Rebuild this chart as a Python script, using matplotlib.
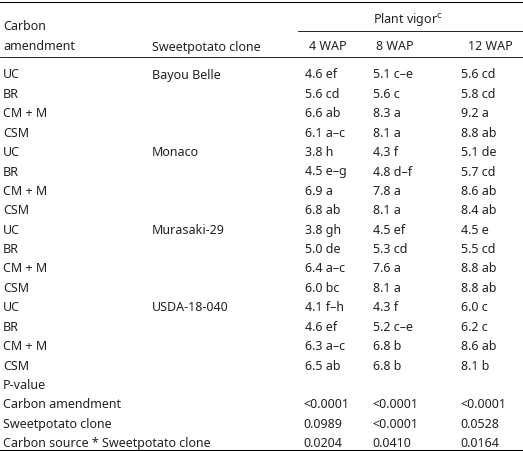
import matplotlib
matplotlib.use("Agg")
import matplotlib.pyplot as plt

amendments = ["UC", "BR", "CM + M", "CSM"] * 4
clones = ["Bayou Belle", "", "", "", "Monaco", "", "", "", "Murasaki-29", "", "", "",
          "USDA-18-040", "", "", ""]
wap4 = ["4.6 ef", "5.6 cd", "6.6 ab", "6.1 a–c", "3.8 h", "4.5 e–g", "6.9 a", "6.8 ab",
        "3.8 gh", "5.0 de", "6.4 a–c", "6.0 bc", "4.1 f–h", "4.6 ef", "6.3 a–c", "6.5 ab"]
wap8 = ["5.1 c–e", "5.6 c", "8.3 a", "8.1 a", "4.3 f", "4.8 d–f", "7.8 a", "8.1 a",
        "4.5 ef", "5.3 cd", "7.6 a", "8.1 a", "4.3 f", "5.2 c–e", "6.8 b", "6.8 b"]
wap12 = ["5.6 cd", "5.8 cd", "9.2 a", "8.8 ab", "5.1 de", "5.7 cd", "8.6 ab", "8.4 ab",
         "4.5 e", "5.5 cd", "8.8 ab", "8.8 ab", "6.0 c", "6.2 c", "8.6 ab", "8.1 b"]
p_labels = ["Carbon amendment", "Sweetpotato clone", "Carbon source * Sweetpotato clone"]
p4 = ["<0.0001", "0.0989", "0.0204"]
p8 = ["<0.0001", "<0.0001", "0.0410"]
p12 = ["<0.0001", "0.0528", "0.0164"]

W, H = 523, 451
fig = plt.figure(figsize=(W/100, H/100), dpi=100)
ax = fig.add_axes([0, 0, 1, 1])
ax.set_xlim(0, W); ax.set_ylim(H, 0); ax.axis("off")
fs = 9
kw = dict(fontsize=fs, family="Noto Sans", va="center", color="#222222")

ax.plot([0, W], [1.5, 1.5], color="black", lw=0.8)
ax.plot([298, W], [31, 31], color="black", lw=0.6)
ax.plot([0, W], [57, 57], color="black", lw=0.6)
ax.plot([0, W], [450, 450], color="black", lw=0.8)

ax.text(3, 27, "Carbon", **kw)
ax.text(3, 47, "amendment", **kw)
ax.text(408, 20, "Plant vigor$^{\\mathrm{c}}$", ha="center", **kw)
ax.text(152, 47, "Sweetpotato clone", **kw)
ax.text(328, 47, "4 WAP", ha="center", **kw)
ax.text(395, 47, "8 WAP", ha="center", **kw)
ax.text(490, 47, "12 WAP", ha="center", **kw)

y0, dy = 75, 19.4
for i in range(len(amendments)):
    y = y0 + i*dy
    ax.text(3, y, amendments[i], **kw)
    ax.text(152, y, clones[i], **kw)
    ax.text(305, y, wap4[i], **kw)
    ax.text(373, y, wap8[i], **kw)
    ax.text(461, y, wap12[i], **kw)
y = y0 + len(amendments)*dy
ax.text(3, y, "P-value", **kw)
for j in range(3):
    yy = y + (j+1)*dy
    ax.text(3, yy, p_labels[j], **kw)
    ax.text(303, yy, p4[j], **kw)
    ax.text(372, yy, p8[j], **kw)
    ax.text(460, yy, p12[j], **kw)

fig.savefig("out.png", dpi=100)
